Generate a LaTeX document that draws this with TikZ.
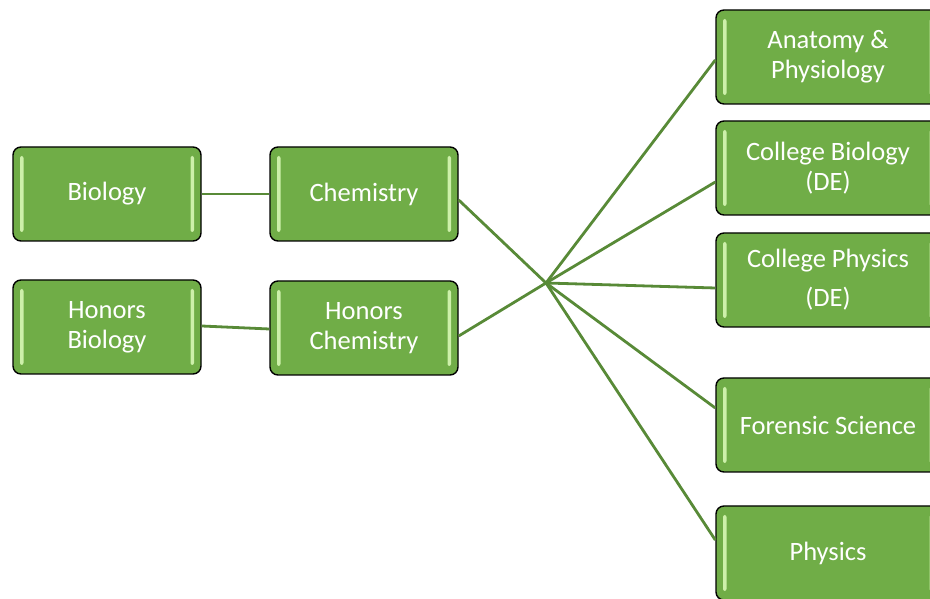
\documentclass[tikz,border=0pt]{standalone}
\usepackage{fontspec}
\setmainfont{Carlito}
\usepackage{tikz}
\definecolor{boxgreen}{RGB}{112, 173, 71}
\definecolor{boxgreenL}{RGB}{205, 240, 170}
\definecolor{linegreen}{RGB}{88, 138, 55}

\tikzset{
  course/.style = {rectangle, rounded corners = 8pt, draw = black, line width = 1.4pt,
    fill = boxgreen, text = white, align = center, minimum width = 188pt,
    minimum height = 94pt, font = \fontsize{26.5}{30}\selectfont,
    path picture = {
      \fill[boxgreenL, rounded corners = 2pt]
        ([xshift = 7pt, yshift = -9pt]path picture bounding box.north west)
        rectangle ([xshift = 10.5pt, yshift = 9pt]path picture bounding box.south west);
      \fill[boxgreenL, rounded corners = 2pt]
        ([xshift = -7pt, yshift = -9pt]path picture bounding box.north east)
        rectangle ([xshift = -10.5pt, yshift = 9pt]path picture bounding box.south east);
    }},
  wide/.style = {minimum width = 224pt},
  link/.style = {draw = linegreen, line width = 2.8pt}
}

\begin{document}
\begin{tikzpicture}[x = 1pt, y = 1pt]
  \useasboundingbox (0,0) rectangle (930,599);
  \clip (0,0) rectangle (930,599);
  % left side
  \node (bio) at (107,405) [course] {Biology};
  \node (chem) at (364,405) [course] {Chemistry};
  \node (hbio) at (107,272) [course] {Honors\\Biology};
  \node (hchem) at (364,271) [course] {Honors\\Chemistry};
  % right side
  \node (anat) at (828,542) [course, wide] {Anatomy \&\\Physiology};
  \node (cbio) at (828,431) [course, wide] {College Biology\\(DE)};
  \node (cphys) at (828,319) [course, wide] {College Physics\\[9pt](DE)};
  \node (foren) at (828,174) [course, wide] {Forensic Science};
  \node (phys) at (828,46) [course, wide] {Physics};
  \coordinate (hub) at (546,316);
  \draw[link] (bio.east) -- (chem.west);
  \draw[link] ([yshift = 1pt]hbio.east) -- ([yshift = -1pt]hchem.west);
  \draw[link] ([yshift = -6pt]chem.east) -- (hub);
  \draw[link] ([yshift = -8pt]hchem.east) -- (hub);
  \draw[link] (hub) -- ([yshift = -3pt]anat.west);
  \draw[link] (hub) -- ([yshift = -14pt]cbio.west);
  \draw[link] (hub) -- ([yshift = -8pt]cphys.west);
  \draw[link] (hub) -- ([yshift = 17pt]foren.west);
  \draw[link] (hub) -- ([yshift = 13pt]phys.west);
\end{tikzpicture}
\end{document}
